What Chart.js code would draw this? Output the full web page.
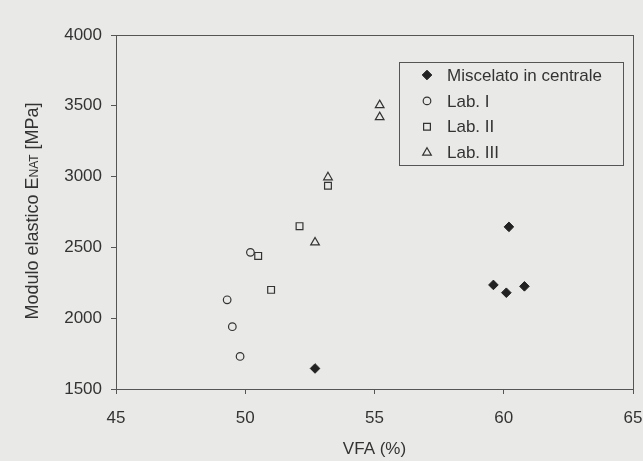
<!DOCTYPE html>
<html>
<head>
<meta charset="utf-8">
<script src="https://cdn.jsdelivr.net/npm/chart.js@4"></script>
<style>
  html, body { margin: 0; padding: 0; background: #e9e9e7; }
  #wrap { width: 643px; height: 461px; }
</style>
</head>
<body>
<div id="wrap"><canvas id="vfa-chart" width="643" height="461"></canvas></div>
<script>
// values
const seriesNames = ["Miscelato in centrale", "Lab. I", "Lab. II", "Lab. III"];

const miscelatoVfa = [52.7, 60.2, 59.6, 60.1, 60.8];
const miscelatoE   = [1645, 2645, 2235, 2180, 2225];

const lab1Vfa = [50.2, 49.3, 49.5, 49.8];
const lab1E   = [2465, 2130, 1940, 1730];

const lab2Vfa = [53.2, 52.1, 50.5, 51.0];
const lab2E   = [2935, 2650, 2440, 2200];

const lab3Vfa = [55.2, 55.2, 53.2, 52.7];
const lab3E   = [3505, 3420, 2995, 2535];

const xTicks = [45, 50, 55, 60, 65];
const yTicks = [1500, 2000, 2500, 3000, 3500, 4000];

const ink = '#333333';
const fontFamily = '"Liberation Sans", Arial, sans-serif';

function toPoints(xs, ys) {
  return xs.map((x, i) => ({ x: x, y: ys[i] }));
}

// frame round the plot area
const framePlugin = {
  id: 'frame',
  afterDraw(chart) {
    const a = chart.chartArea;
    const ctx = chart.ctx;
    ctx.save();
    ctx.strokeStyle = '#555';
    ctx.lineWidth = 1;
    ctx.strokeRect(Math.round(a.left) + 0.5, Math.round(a.top) + 0.5,
      Math.round(a.right - a.left), Math.round(a.bottom - a.top));
    ctx.restore();
  }
};

// boxed legend inside the plot, like the original
const boxLegend = {
  id: 'boxLegend',
  afterDraw(chart) {
    const ctx = chart.ctx;
    const bx = 399, by = 62, bw = 224, bh = 103;
    ctx.save();
    ctx.strokeStyle = '#555';
    ctx.lineWidth = 1;
    ctx.strokeRect(bx + 0.5, by + 0.5, bw, bh);
    ctx.textBaseline = 'middle';
    chart.data.datasets.forEach((ds, i) => {
      const cy = 75 + i * 25.9;
      ctx.fillStyle = ds.backgroundColor;
      ctx.strokeStyle = ds.borderColor;
      ctx.lineWidth = ds.borderWidth;
      Chart.helpers.drawPoint(ctx, {
        pointStyle: ds.pointStyle,
        radius: ds.pointRadius,
        borderWidth: ds.borderWidth
      }, 427, cy);
      ctx.font = '17px ' + fontFamily;
      ctx.fillStyle = ink;
      ctx.fillText(ds.label, 447, cy + 1);
    });
    ctx.restore();
  }
};

// y axis title with the small-caps "NAT" subscript
const yTitle = {
  id: 'yTitle',
  afterDraw(chart) {
    const ctx = chart.ctx;
    const big = '18px ' + fontFamily;
    const small = '12px ' + fontFamily;
    const parts = [
      { t: 'Modulo elastico E', f: big },
      { t: 'NAT', f: small },
      { t: ' [MPa]', f: big }
    ];
    ctx.save();
    let total = 0;
    parts.forEach(p => { ctx.font = p.f; p.w = ctx.measureText(p.t).width; total += p.w; });
    ctx.translate(31, 211);
    ctx.rotate(-Math.PI / 2);
    ctx.fillStyle = ink;
    ctx.textBaseline = 'alphabetic';
    let x = -total / 2;
    parts.forEach(p => {
      ctx.font = p.f;
      ctx.fillText(p.t, x, 7);
      x += p.w;
    });
    ctx.restore();
  }
};

function hollow(label, xs, ys, style, r) {
  return {
    label: label,
    data: toPoints(xs, ys),
    pointStyle: style,
    pointRadius: r,
    pointHoverRadius: r,
    backgroundColor: 'rgba(0,0,0,0)',
    borderColor: ink,
    borderWidth: 1.2
  };
}

const ctx = document.getElementById('vfa-chart').getContext('2d');
new Chart(ctx, {
  type: 'scatter',
  data: {
    datasets: [
      {
        label: seriesNames[0],
        data: toPoints(miscelatoVfa, miscelatoE),
        pointStyle: 'rectRot',
        pointRadius: 4.8,
        pointHoverRadius: 4.8,
        backgroundColor: '#222',
        borderColor: '#222',
        borderWidth: 1
      },
      hollow(seriesNames[1], lab1Vfa, lab1E, 'circle', 3.8),
      hollow(seriesNames[2], lab2Vfa, lab2E, 'rect', 4.8),
      hollow(seriesNames[3], lab3Vfa, lab3E, 'triangle', 5)
    ]
  },
  options: {
    responsive: false,
    animation: false,
    layout: { padding: { top: 35, right: 10, left: 0, bottom: 0 } },
    plugins: {
      legend: { display: false },
      tooltip: { enabled: false }
    },
    scales: {
      x: {
        type: 'linear',
        min: 45,
        max: 65,
        afterBuildTicks: s => { s.ticks = xTicks.map(v => ({ value: v })); },
        afterFit: s => { s.height = 72; s.paddingRight = 0; s.paddingLeft = 0; },
        grid: { drawOnChartArea: false, drawTicks: true, tickLength: 5, color: '#555' },
        border: { display: false },
        ticks: { color: ink, font: { size: 17, family: fontFamily }, padding: 14, maxRotation: 0 },
        title: {
          display: true,
          text: 'VFA (%)',
          color: ink,
          font: { size: 17, family: fontFamily },
          padding: { top: 0, bottom: 1 }
        }
      },
      y: {
        type: 'linear',
        min: 1500,
        max: 4000,
        afterBuildTicks: s => { s.ticks = yTicks.map(v => ({ value: v })); },
        afterFit: s => { s.width = 116; s.paddingTop = 0; s.paddingBottom = 0; },
        grid: { drawOnChartArea: false, drawTicks: true, tickLength: 5, color: '#555' },
        border: { display: false },
        ticks: {
          color: ink,
          font: { size: 17, family: fontFamily },
          padding: 9,
          callback: v => String(v)
        }
      }
    }
  },
  plugins: [framePlugin, boxLegend, yTitle]
});
</script>
</body>
</html>
